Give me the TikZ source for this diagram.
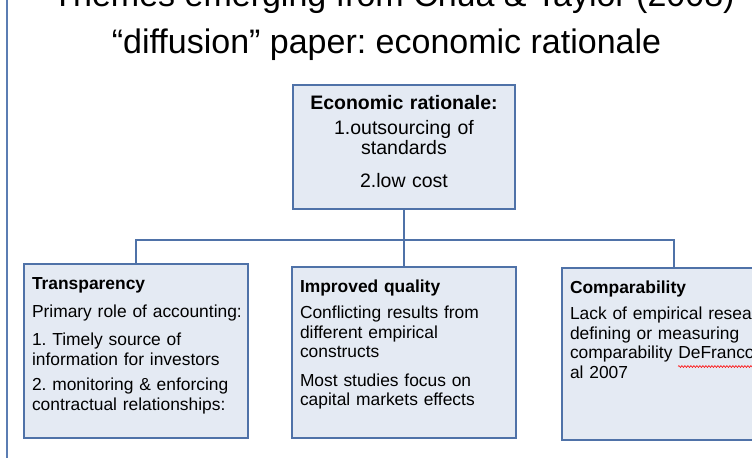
\documentclass[tikz,border=0pt]{standalone}
\usepackage{fontspec}
\setmainfont{Liberation Sans}
\usetikzlibrary{decorations.pathmorphing}

\definecolor{panelfill}{HTML}{E4EAF3}
\definecolor{panelline}{HTML}{4F72A8}
\definecolor{slideline}{HTML}{5B7DB3}

\frenchspacing
\hyphenpenalty=10000
\hfuzz=20pt

\tikzset{
    panel/.style={draw=panelline, line width=2pt, fill=panelfill, anchor=north west,
        inner xsep=8pt, inner ysep=0pt, align=left, text width=208pt,
        font=\fontsize{17.4}{19.5}\selectfont, text height=25pt},
    link/.style={draw=panelline, line width=2pt},
    heading/.style={anchor=base, font=\fontsize{34}{40}\selectfont}
}

\begin{document}
\begin{tikzpicture}[x=1pt, y=-1pt]
    % 1. FULL I MARGES
    \useasboundingbox (0,0) rectangle (752,458);
    \clip (0,0) rectangle (752,458);
    \fill[white] (0,0) rectangle (752,458);
    \draw[slideline, line width=2pt] (7,0) -- (7,458);

    % 2. TITOL (la primera linia queda tallada a dalt)
    \node[heading] (title1) at (393.5,6.5) {Themes emerging from Chua \& Taylor (2008)};
    \node[heading] (title2) at (386.5,53) {“diffusion” paper: economic rationale};

    % 3. CAIXA SUPERIOR
    \node[panel, align=center, text width=206pt, text height=24pt, text depth=100pt,
        font=\fontsize{19.5}{20}\selectfont] (econ) at (292,84)
        {{\bfseries Economic rationale:}\\[5pt]
         1.outsourcing of\\
         standards\\[13pt]
         2.low cost};

    % 4. LES TRES CAIXES DE SOTA
    \node[panel, text depth=148.5pt, text height=25.5pt] (transp) at (23,263)
        {{\bfseries Transparency}\\[8pt]
         \mbox{Primary role of accounting:}\\[9pt]
         1. Timely source of\\
         information for investors\\[6pt]
         2. monitoring \& enforcing\\
         contractual relationships:};
    \node[panel, text depth=146pt] (quality) at (291,266)
        {{\bfseries Improved quality}\\[7pt]
         Conflicting results from\\
         different empirical\\
         constructs\\[9pt]
         Most studies focus on\\
         capital markets effects};
    \node[panel, text depth=147pt] (compar) at (561,267)
        {{\bfseries Comparability}\\[7pt]
         \mbox{Lack of empirical research}\\
         defining or measuring\\
         \mbox{comparability DeFranco et}\\
         al 2007};
    \draw[red, line width=0.6pt, decorate, decoration={snake, amplitude=0.9pt, segment length=3pt}]
        (678,366.5) -- (760,366.5);

    % 5. CONNECTORS
    \coordinate (bus) at (econ.south |- 0,240);
    \draw[link] (econ.south) -- (bus);
    \foreach \b in {transp, quality, compar} {
        \draw[link] (bus) -| (\b.north);
    }
\end{tikzpicture}
\end{document}
